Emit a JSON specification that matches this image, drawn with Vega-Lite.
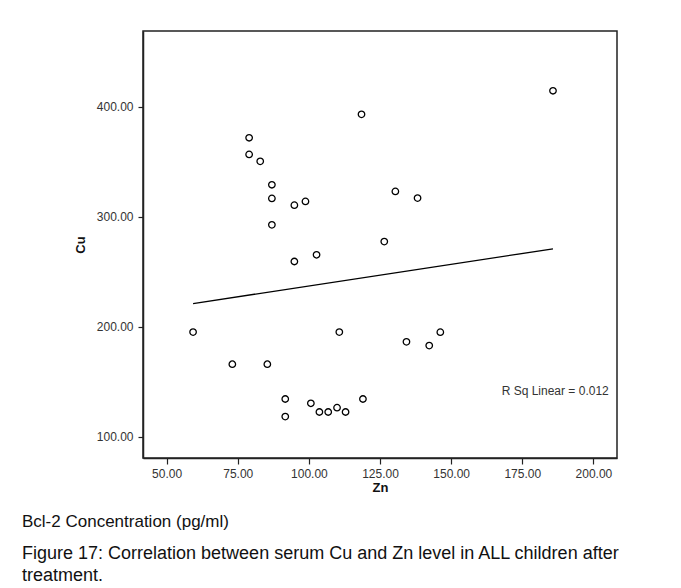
{
  "$schema": "https://vega.github.io/schema/vega-lite/v6.json",
  "autosize": {"type": "none"},
  "padding": {"left": 143, "top": 31, "right": 64, "bottom": 130},
  "width": 474,
  "height": 427,
  "background": "white",
  "config": {
    "view": {"stroke": "#222", "strokeWidth": 1.5},
    "font": "Liberation Sans",
    "axis": {
      "labelFont": "Liberation Sans",
      "labelFontSize": 12,
      "labelColor": "#333",
      "titleFont": "Liberation Sans",
      "titleFontSize": 13,
      "titleFontWeight": "bold",
      "titleColor": "#111",
      "domainColor": "#222",
      "domainWidth": 1.5,
      "tickColor": "#222",
      "tickWidth": 1.2,
      "grid": false
    }
  },
  "title": {
    "text": "Bcl-2 Concentration (pg/ml)",
    "subtitle": ["Figure 17: Correlation between serum Cu and Zn level in ALL children after", "treatment."],
    "orient": "bottom",
    "anchor": "start",
    "frame": "group",
    "dx": -121,
    "offset": 20,
    "font": "Liberation Sans",
    "fontSize": 17,
    "fontWeight": "normal",
    "color": "#111",
    "subtitleFont": "Liberation Sans",
    "subtitleFontSize": 18,
    "subtitleColor": "#111",
    "subtitlePadding": 14,
    "subtitleLineHeight": 22
  },
  "datasets": {
    "points": [
      {"Zn": 79.0, "Cu": 371.8},
      {"Zn": 79.0, "Cu": 356.7},
      {"Zn": 82.9, "Cu": 350.4},
      {"Zn": 87.0, "Cu": 329.1},
      {"Zn": 87.0, "Cu": 316.7},
      {"Zn": 94.9, "Cu": 310.6},
      {"Zn": 98.8, "Cu": 314.0},
      {"Zn": 87.0, "Cu": 292.7},
      {"Zn": 94.9, "Cu": 259.4},
      {"Zn": 102.7, "Cu": 265.5},
      {"Zn": 59.3, "Cu": 195.3},
      {"Zn": 110.7, "Cu": 195.3},
      {"Zn": 118.5, "Cu": 393.1},
      {"Zn": 185.8, "Cu": 414.5},
      {"Zn": 130.4, "Cu": 323.1},
      {"Zn": 138.2, "Cu": 317.0},
      {"Zn": 126.5, "Cu": 277.5},
      {"Zn": 73.1, "Cu": 166.1},
      {"Zn": 85.4, "Cu": 166.1},
      {"Zn": 91.7, "Cu": 134.5},
      {"Zn": 91.7, "Cu": 118.5},
      {"Zn": 100.7, "Cu": 130.6},
      {"Zn": 103.7, "Cu": 122.7},
      {"Zn": 106.8, "Cu": 122.7},
      {"Zn": 109.9, "Cu": 126.6},
      {"Zn": 112.9, "Cu": 122.7},
      {"Zn": 119.0, "Cu": 134.5},
      {"Zn": 134.3, "Cu": 186.4},
      {"Zn": 142.3, "Cu": 183.0},
      {"Zn": 146.2, "Cu": 195.2}
    ],
    "fit": [
      {"Zn": 59.3, "Cu": 221.2},
      {"Zn": 185.8, "Cu": 270.9}
    ],
    "label": [
      {"Zn": 205.4, "Cu": 142.0, "text": "R Sq Linear = 0.012"}
    ]
  },
  "encoding": {
    "x": {
      "field": "Zn", "type": "quantitative", "title": "Zn",
      "scale": {"domain": [41.7, 208.3], "nice": false, "zero": false},
      "axis": {"values": [50, 75, 100, 125, 150, 175, 200], "format": ".2f", "tickSize": 6, "labelPadding": 4, "titlePadding": 2}
    },
    "y": {
      "field": "Cu", "type": "quantitative", "title": "Cu",
      "scale": {"domain": [80.9, 468.8], "nice": false, "zero": false},
      "axis": {"values": [100, 200, 300, 400], "format": ".2f", "tickSize": 5, "labelPadding": 5, "titlePadding": 9}
    }
  },
  "layer": [
    {
      "data": {"name": "points"},
      "mark": {"type": "point", "shape": "circle", "filled": false, "size": 42, "stroke": "#000", "strokeWidth": 1.3, "opacity": 1}
    },
    {
      "data": {"name": "fit"},
      "mark": {"type": "line", "color": "#000", "strokeWidth": 1.3}
    },
    {
      "data": {"name": "label"},
      "mark": {"type": "text", "align": "right", "baseline": "middle", "font": "Liberation Sans", "fontSize": 12, "color": "#333"},
      "encoding": {"text": {"field": "text"}}
    }
  ]
}
